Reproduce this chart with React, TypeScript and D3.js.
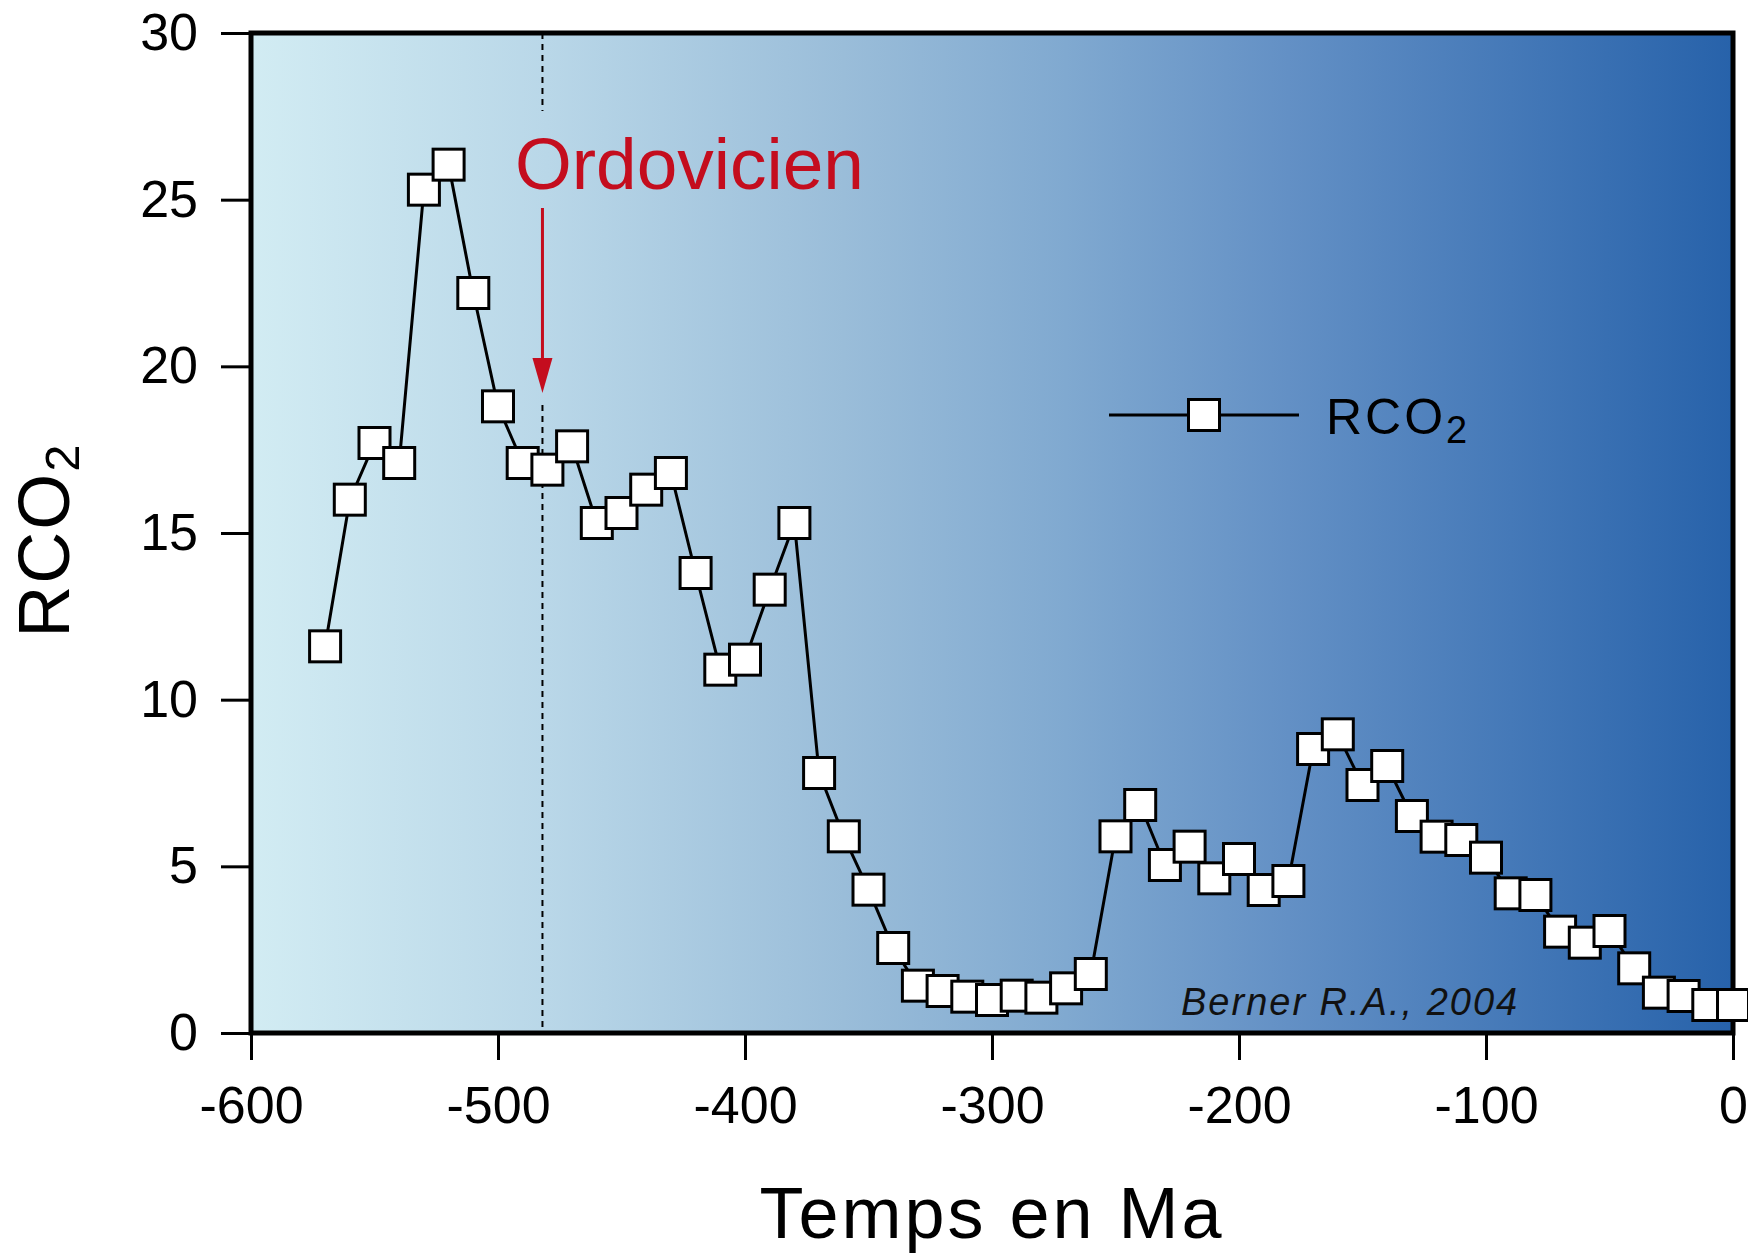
import React, { useEffect, useRef } from 'react';
import * as d3 from 'd3';

// Berner (2004), RCO2 every 10 Ma
const ages = [
  -570, -560, -550, -540, -530, -520, -510, -500, -490, -480,
  -470, -460, -450, -440, -430, -420, -410, -400, -390, -380,
  -370, -360, -350, -340, -330, -320, -310, -300, -290, -280,
  -270, -260, -250, -240, -230, -220, -210, -200, -190, -180,
  -170, -160, -150, -140, -130, -120, -110, -100, -90, -80,
  -70, -60, -50, -40, -30, -20, -10, 0,
];
const rco2 = [
  11.6, 16.0, 17.7, 17.1, 25.3, 26.05, 22.2, 18.8, 17.1, 16.9,
  17.6, 15.3, 15.6, 16.3, 16.8, 13.8, 10.9, 11.2, 13.3, 15.3,
  7.8, 5.9, 4.3, 2.55, 1.42, 1.26, 1.09, 0.99, 1.12, 1.06,
  1.34, 1.77, 5.9, 6.84, 5.04, 5.59, 4.64, 5.22, 4.29, 4.56,
  8.52, 8.96, 7.44, 8.01, 6.51, 5.89, 5.79, 5.26, 4.19, 4.14,
  3.04, 2.71, 3.06, 1.94, 1.21, 1.11, 0.84, 0.84,
];
const xTicks = [-600, -500, -400, -300, -200, -100, 0];
const yTicks = [0, 5, 10, 15, 20, 25, 30];
const ordovicienStart = -482;

const FONT = '"Liberation Sans", Arial, Helvetica, sans-serif';

export default function App() {
  const svgRef = useRef<SVGSVGElement>(null);

  useEffect(() => {
    const width = 1748;
    const height = 1257;
    const m = { left: 251, right: 1733, top: 33, bottom: 1033 };

    const svg = d3.select(svgRef.current)
      .attr('width', width)
      .attr('height', height)
      .style('font-family', FONT);
    svg.selectAll('*').remove();

    const x = d3.scaleLinear().domain([-600, 0]).range([m.left, m.right]);
    const y = d3.scaleLinear().domain([0, 30]).range([m.bottom, m.top]);

    // background gradient
    const grad = svg.append('defs').append('linearGradient')
      .attr('id', 'bg').attr('x1', '0%').attr('x2', '100%').attr('y1', '0%').attr('y2', '0%');
    [
      [0, '#d2ecf3'], [0.2, '#b9d7e8'], [0.4, '#9abdd9'], [0.55, '#80a9d0'],
      [0.7, '#6390c5'], [0.85, '#4579b8'], [1, '#2762aa'],
    ].forEach(([o, c]) => grad.append('stop').attr('offset', o as number).attr('stop-color', c as string));

    svg.append('rect')
      .attr('x', m.left).attr('y', m.top)
      .attr('width', m.right - m.left).attr('height', m.bottom - m.top)
      .attr('fill', 'url(#bg)');

    // Ordovicien marker
    const ox = x(ordovicienStart);
    svg.append('line')
      .attr('x1', ox).attr('x2', ox).attr('y1', m.top).attr('y2', 111)
      .attr('stroke', '#000').attr('stroke-width', 2).attr('stroke-dasharray', '6,5');
    svg.append('line')
      .attr('x1', ox).attr('x2', ox).attr('y1', 405).attr('y2', m.bottom)
      .attr('stroke', '#000').attr('stroke-width', 2).attr('stroke-dasharray', '6,5');
    svg.append('line')
      .attr('x1', ox).attr('x2', ox).attr('y1', 208).attr('y2', 365)
      .attr('stroke', '#c40d1e').attr('stroke-width', 3);
    svg.append('path')
      .attr('d', `M${ox - 10},358 L${ox + 10},358 L${ox},393 Z`)
      .attr('fill', '#c40d1e');
    svg.append('text')
      .attr('x', 515).attr('y', 189)
      .attr('font-size', 73).attr('fill', '#c40d1e')
      .text('Ordovicien');

    // axes
    const xAxis = d3.axisBottom(x).tickValues(xTicks).tickSize(27).tickPadding(26)
      .tickFormat(d => String(d));
    const gx = svg.append('g').attr('transform', `translate(0,${m.bottom})`).call(xAxis);
    const yAxis = d3.axisLeft(y).tickValues(yTicks).tickSize(30).tickPadding(23)
      .tickFormat(d => String(d));
    const gy = svg.append('g').attr('transform', `translate(${m.left},0)`).call(yAxis);
    [gx, gy].forEach(g => {
      g.select('.domain').remove();
      g.selectAll('line').attr('stroke', '#000').attr('stroke-width', 3);
      g.selectAll('text').attr('font-size', 52).attr('font-family', FONT).attr('fill', '#000');
    });

    // frame
    svg.append('rect')
      .attr('x', m.left).attr('y', m.top)
      .attr('width', m.right - m.left).attr('height', m.bottom - m.top)
      .attr('fill', 'none').attr('stroke', '#000').attr('stroke-width', 5);

    // series
    const pts = ages.map((a, i) => [a, rco2[i]] as [number, number]);
    const line = d3.line<[number, number]>().x(d => x(d[0])).y(d => y(d[1]));
    svg.append('path')
      .datum(pts)
      .attr('d', line)
      .attr('fill', 'none').attr('stroke', '#000').attr('stroke-width', 3);

    const s = 31;
    svg.append('g').selectAll('rect')
      .data(pts)
      .join('rect')
      .attr('x', d => x(d[0]) - s / 2).attr('y', d => y(d[1]) - s / 2)
      .attr('width', s).attr('height', s)
      .attr('fill', '#fff').attr('stroke', '#000').attr('stroke-width', 3);

    // legend
    svg.append('line')
      .attr('x1', 1109).attr('x2', 1299).attr('y1', 415).attr('y2', 415)
      .attr('stroke', '#000').attr('stroke-width', 3);
    svg.append('rect')
      .attr('x', 1204 - s / 2).attr('y', 415 - s / 2).attr('width', s).attr('height', s)
      .attr('fill', '#fff').attr('stroke', '#000').attr('stroke-width', 3);
    const lt = svg.append('text').attr('x', 1326).attr('y', 434)
      .attr('font-size', 50).attr('letter-spacing', 3).attr('fill', '#000');
    lt.append('tspan').text('RCO');
    lt.append('tspan').attr('font-size', 38).attr('dy', 9).text('2');

    // source
    svg.append('text')
      .attr('x', 1181).attr('y', 1015)
      .attr('font-size', 38).attr('font-style', 'italic').attr('letter-spacing', 2)
      .attr('fill', '#111')
      .text('Berner R.A., 2004');

    // axis titles
    svg.append('text')
      .attr('x', (m.left + m.right) / 2).attr('y', 1238)
      .attr('text-anchor', 'middle')
      .attr('font-size', 72).attr('letter-spacing', 3).attr('fill', '#000')
      .text('Temps en Ma');

    const yt = svg.append('text')
      .attr('transform', 'translate(69,540) rotate(-90)')
      .attr('text-anchor', 'middle')
      .attr('font-size', 72).attr('letter-spacing', 2).attr('fill', '#000');
    yt.append('tspan').text('RCO');
    yt.append('tspan').attr('font-size', 49).attr('dy', 10).text('2');
  }, []);

  return (
    <div style={{ position: 'absolute', left: 0, top: 0, background: '#fff' }}>
      <svg ref={svgRef} style={{ display: 'block' }}></svg>
    </div>
  );
}
